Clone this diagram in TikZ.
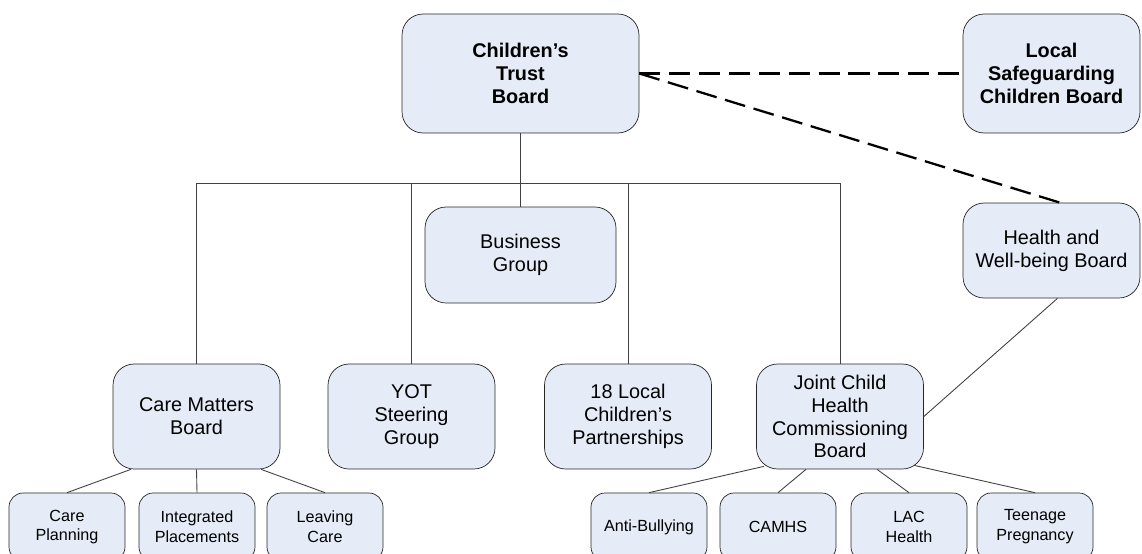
\documentclass[tikz,border=0pt]{standalone}
\usepackage{fontspec}
\setmainfont{Liberation Sans}

\definecolor{boxfill}{RGB}{230,236,247}
\tikzset{
  board/.style={draw=black!85, fill=boxfill, rounded corners=12pt, align=center, inner sep=2pt,
    minimum width=3.34cm, minimum height=2.1cm, font=\fontsize{11.3}{13}\selectfont},
  topboard/.style={board, minimum width=3.54cm, minimum height=2.38cm, font=\fontsize{11.3}{13}\selectfont\bfseries},
  subboard/.style={board, rounded corners=8pt, minimum width=2.32cm, minimum height=1.36cm, font=\fontsize{9.2}{11.3}\selectfont},
  link/.style={draw=black!75, line width=0.5pt},
  dashlink/.style={draw=black, line width=1.3pt, dash pattern=on 12pt off 5pt}
}

\begin{document}
\begin{tikzpicture}[x=0.02cm, y=-0.02cm]
  \useasboundingbox (0,0) rectangle (1142,554);
  \clip (0,0) rectangle (1142,554);
  % top level
  \node[topboard, minimum width=4.74cm] (ctb) at (520.5,73.5) {Children’s\\Trust\\Board};
  \node[topboard] (lscb) at (1051.5,73.5) {Local\\Safeguarding\\Children Board};
  \node[board, minimum width=3.82cm, minimum height=1.92cm] (biz) at (520.5,255) {Business\\Group};
  \node[board, minimum width=3.54cm, minimum height=1.9cm] (hwb) at (1051.5,250.5) {Health and\\Well-being Board};
  % second row
  \node[board] (cmb) at (196.5,416.5) {Care Matters\\Board};
  \node[board] (yot) at (411.5,416.5) {YOT\\Steering\\Group};
  \node[board] (loc) at (628,416.5) {18 Local\\Children’s\\Partnerships};
  \node[board] (jch) at (840,416.5) {Joint Child\\Health\\Commissioning\\Board};
  % bottom row
  \node[subboard] (cp) at (67,527) {Care\\Planning};
  \node[subboard] (ip) at (197,527) {Integrated\\Placements};
  \node[subboard] (lc) at (325,527) {Leaving\\Care};
  \node[subboard] (ab) at (649,527) {Anti-Bullying};
  \node[subboard] (camhs) at (778,527) {CAMHS};
  \node[subboard] (lac) at (909,527) {LAC\\Health};
  \node[subboard] (tp) at (1035,527) {Teenage\\Pregnancy};

  % tree lines
  \coordinate (bus) at (0,183);
  \draw[link] (ctb.south) -- (biz.north);
  \draw[link] (cmb.north) |- (bus -| jch.north) -- (jch.north);
  \draw[link] (yot.north) -- (yot.north |- bus);
  \draw[link] (loc.north) -- (loc.north |- bus);
  \draw[link] (hwb.south) ++(6,0) -- (jch.east);
  % dashed links
  \draw[dashlink] (ctb.east) -- (lscb.west);
  \draw[dashlink] (ctb.east) -- ([xshift=0.17cm]hwb.north);
  % sub groups
  \draw[link] (cmb.south) ++(-65.5,0) -- (cp.north);
  \draw[link] (cmb.south) -- (ip.north);
  \draw[link] (cmb.south) ++(64.5,0) -- (lc.north);
  \draw[link] (jch.south) ++(-76,-3) -- (ab.north);
  \draw[link] (jch.south) ++(-34,0) -- (camhs.north);
  \draw[link] (jch.south) ++(37,0) -- (lac.north);
  \draw[link] (jch.south) ++(74,-4) -- (tp.north);
\end{tikzpicture}
\end{document}
